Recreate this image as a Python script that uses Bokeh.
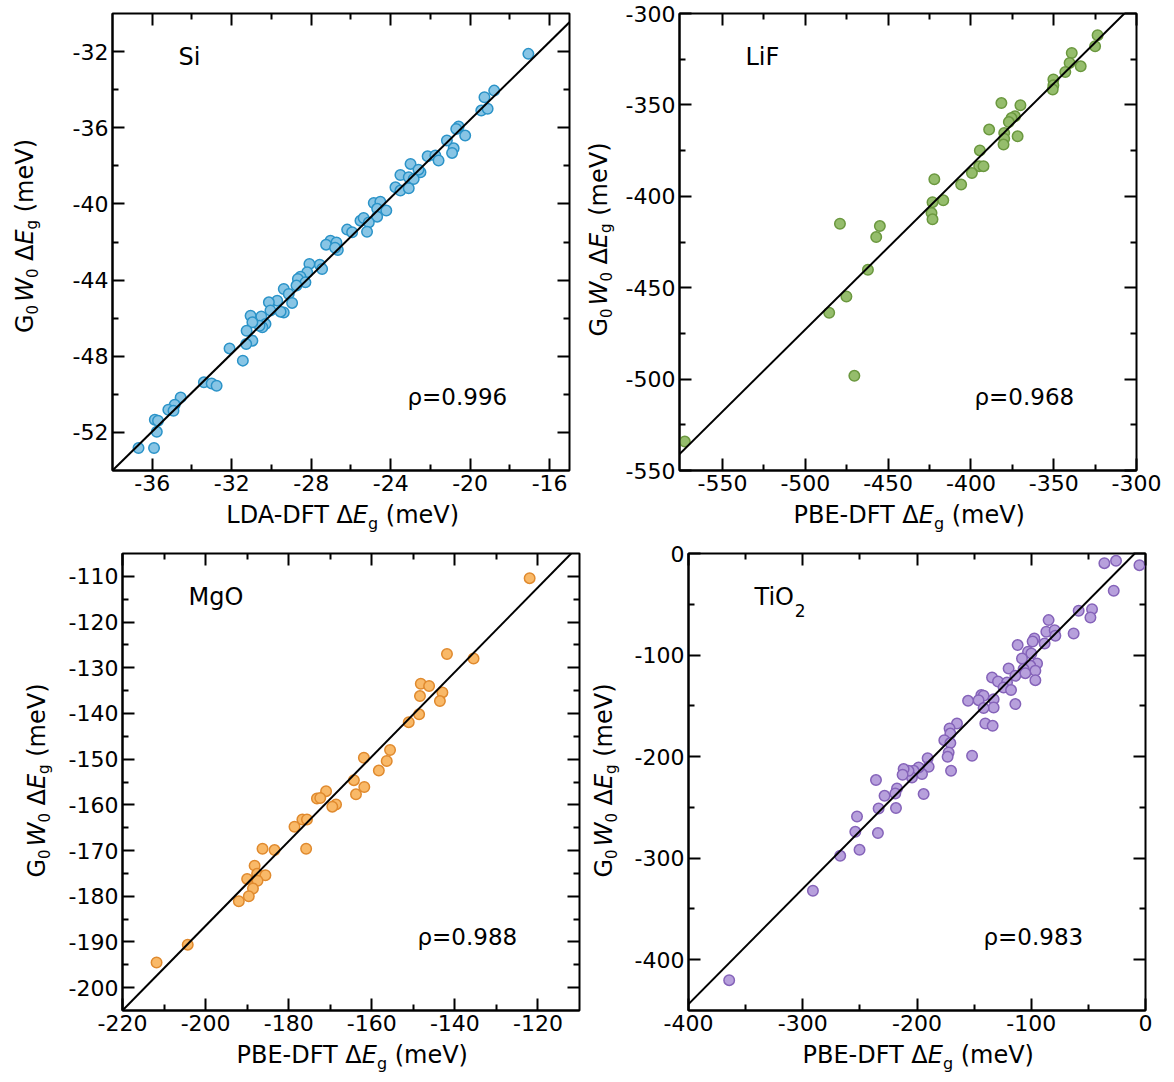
from bokeh.plotting import figure
from bokeh.models import Label, LinearAxis, FixedTicker, Slope, Range1d
from bokeh.layouts import column, row
from bokeh.embed import file_html
from bokeh.resources import INLINE

FONT = "DejaVu Sans"

# ---------------- data ----------------
si_x = [-17.07, -18.79, -19.28, -19.44, -19.12, -20.58, -20.70, -20.25, -21.17, -20.83,
        -20.91, -22.14, -21.75, -21.59, -23.00, -22.50, -22.60, -23.51, -23.09, -22.84,
        -23.76, -23.51, -23.09, -24.85, -24.52, -24.68, -24.22, -24.68, -25.52, -25.36,
        -25.10, -25.19, -26.19, -25.94, -27.03, -27.25, -26.73, -26.66, -26.80, -27.57,
        -27.45, -28.09, -28.20, -28.54, -28.67, -28.29, -29.38, -28.74, -29.13, -28.96,
        -29.38, -29.54, -29.71, -30.13, -30.05, -30.51, -30.30, -30.46, -30.60, -31.05,
        -30.96, -31.25, -30.96, -31.27, -32.11, -31.44, -33.40, -33.01, -32.76, -34.57,
        -34.87, -35.19, -34.93, -35.87, -35.71, -35.77, -36.69, -35.91]
si_y = [-32.12, -34.05, -34.40, -35.10, -35.00, -35.94, -36.06, -36.41, -36.67, -37.08,
        -37.32, -37.50, -37.46, -37.72, -37.90, -38.34, -38.20, -38.48, -38.60, -38.69,
        -39.13, -39.30, -39.18, -39.95, -39.88, -40.26, -40.35, -40.67, -40.88, -40.74,
        -40.97, -41.46, -41.35, -41.49, -41.93, -42.14, -42.02, -42.42, -42.30, -43.19,
        -43.42, -43.15, -43.59, -43.82, -43.94, -44.12, -44.47, -44.29, -44.73, -45.20,
        -45.70, -45.66, -45.08, -45.17, -45.60, -45.91, -46.31, -46.48, -46.40, -45.87,
        -46.22, -46.66, -47.18, -47.36, -47.59, -48.23, -49.37, -49.43, -49.55, -50.16,
        -50.55, -50.81, -50.86, -51.33, -51.39, -51.97, -52.82, -52.82]

lif_x = [-323.5, -325.0, -339.1, -340.4, -333.7, -343.0, -350.2, -350.2, -350.6, -381.6,
         -370.1, -373.4, -375.5, -377.1, -389.0, -379.9, -379.9, -371.8, -380.3, -394.6,
         -395.0, -392.4, -399.4, -405.9, -422.1, -423.2, -416.7, -423.8, -423.2, -479.1,
         -455.0, -457.2, -462.2, -475.2, -485.6, -470.4, -572.8]
lif_y = [-311.9, -317.9, -321.6, -327.1, -328.9, -332.0, -336.1, -339.3, -341.6, -349.0,
         -350.2, -356.2, -357.2, -359.4, -363.5, -365.4, -368.5, -367.2, -371.7, -374.9,
         -383.5, -383.5, -387.3, -393.6, -390.7, -403.2, -402.2, -409.2, -412.6, -415.0,
         -416.3, -422.3, -440.2, -454.8, -463.7, -498.2, -534.2]

mgo_x = [-122.0, -135.5, -141.9, -148.2, -146.2, -148.4, -143.0, -143.6, -148.6, -151.1,
         -155.6, -156.4, -161.9, -158.3, -164.3, -161.8, -163.8, -171.0, -173.2, -172.4,
         -168.6, -169.5, -176.7, -175.6, -178.6, -175.8, -186.3, -183.4, -188.2, -190.0,
         -187.6, -185.6, -187.5, -188.6, -189.6, -192.0, -204.3, -211.8]
mgo_y = [-110.4, -128.0, -127.0, -133.5, -134.0, -136.2, -135.4, -137.3, -140.2, -141.9,
         -148.0, -150.4, -149.7, -152.5, -154.6, -156.1, -157.7, -157.0, -158.6, -158.5,
         -159.9, -160.4, -163.2, -163.2, -164.8, -169.6, -169.6, -169.9, -173.3, -176.2,
         -175.1, -175.4, -176.6, -178.3, -180.0, -181.1, -190.6, -194.5]

tio2_x = [-36.0, -25.8, -5.3, -27.8, -58.5, -46.8, -48.2, -62.9, -84.8, -86.8,
          -79.5, -78.9, -97.3, -98.8, -88.3, -111.9, -102.8, -99.9, -108.1, -94.9,
          -100.8, -119.8, -106.7, -96.4, -105.2, -113.9, -96.4, -134.3, -129.1, -121.2,
          -124.2, -117.7, -143.7, -141.7, -132.9, -146.1, -155.3, -113.9, -132.9, -141.7,
          -140.2, -133.8, -165.0, -171.5, -170.8, -176.1, -170.8, -172.3, -173.2, -151.8,
          -170.2, -190.7, -189.8, -195.6, -198.6, -202.9, -204.4, -207.4, -211.7, -212.6,
          -235.9, -194.2, -217.5, -219.0, -228.4, -233.6, -218.4, -252.5, -254.0, -234.2,
          -250.3, -267.2, -291.1, -364.4]
tio2_y = [-9.5, -7.2, -11.5, -36.7, -56.4, -54.8, -63.0, -78.8, -65.6, -77.1,
          -75.5, -81.0, -83.7, -86.7, -88.6, -90.2, -96.8, -98.5, -103.4, -108.3,
          -110.6, -113.2, -113.8, -115.5, -117.8, -120.4, -124.7, -122.1, -126.0, -127.0,
          -132.0, -134.5, -139.4, -140.1, -143.4, -144.4, -145.1, -148.3, -151.6, -152.2,
          -167.4, -169.7, -167.4, -172.3, -177.3, -183.8, -186.7, -196.0, -200.2, -199.2,
          -214.0, -201.5, -210.0, -217.2, -210.7, -214.0, -220.6, -214.0, -212.3, -217.9,
          -223.1, -236.9, -231.4, -236.3, -238.6, -251.1, -250.7, -259.0, -274.1, -275.3,
          -291.8, -297.7, -332.1, -420.1]

# linear fits (gradient, intercept)
si_fit = [1.0235, -15.107]
lif_fit = [0.897, -24.35]
mgo_fit = [0.9259, -1.30]
tio2_fit = [1.136, 10.68]

names = ["Si", "LiF", "MgO", "TiO"]
rho_labels = ["ρ=0.996", "ρ=0.968", "ρ=0.988", "ρ=0.983"]
x_titles = ["LDA-DFT", "PBE-DFT", "PBE-DFT", "PBE-DFT"]

si_xticks = [-36, -32, -28, -24, -20, -16]
si_xlabels = ["-36", "-32", "-28", "-24", "-20", "-16"]
si_xminor = [-34, -30, -26, -22, -18]
si_yticks = [-52, -48, -44, -40, -36, -32]
si_ylabels = ["-52", "-48", "-44", "-40", "-36", "-32"]
si_yminor = [-50, -46, -42, -38, -34]

lif_xticks = [-550, -500, -450, -400, -350, -300]
lif_xlabels = ["-550", "-500", "-450", "-400", "-350", "-300"]
lif_xminor = [-525, -475, -425, -375, -325]
lif_yticks = [-550, -500, -450, -400, -350, -300]
lif_ylabels = ["-550", "-500", "-450", "-400", "-350", "-300"]
lif_yminor = [-525, -475, -425, -375, -325]

mgo_xticks = [-220, -200, -180, -160, -140, -120]
mgo_xlabels = ["-220", "-200", "-180", "-160", "-140", "-120"]
mgo_xminor = [-210, -190, -170, -150, -130]
mgo_yticks = [-200, -190, -180, -170, -160, -150, -140, -130, -120, -110]
mgo_ylabels = ["-200", "-190", "-180", "-170", "-160", "-150", "-140", "-130", "-120", "-110"]
mgo_yminor = [-195, -185, -175, -165, -155, -145, -135, -125, -115]

tio2_xticks = [-400, -300, -200, -100, 0]
tio2_xlabels = ["-400", "-300", "-200", "-100", "0"]
tio2_xminor = [-350, -250, -150, -50]
tio2_yticks = [-400, -300, -200, -100, 0]
tio2_ylabels = ["-400", "-300", "-200", "-100", "0"]
tio2_yminor = [-350, -250, -150, -50]

# ---------------- text helpers ----------------
WID = {" ": 318, "(": 390, ")": 390, "-": 361, ".": 318, "=": 838, "Δ": 684, "ρ": 635,
       "A": 684, "B": 686, "D": 770, "E": 632, "F": 575, "G": 775, "L": 557, "P": 603,
       "T": 611, "V": 684, "W": 989, "O": 787, "i": 278, "e": 615, "m": 974, "g": 635}
for d in "0123456789":
    WID[d] = 636
BASE = 0.35  # distance from the anchor to the baseline, in font sizes


def tw(s, size):
    return sum(WID.get(c, 620) for c in s) * size / 1000.0


def lab(p, x, y, text, size, italic=False, angle=0.0, align="left"):
    p.add_layout(Label(x=x, y=y, text=text, angle=angle,
                       text_font=FONT, text_font_size=f"{size}px",
                       text_font_style="italic" if italic else "normal",
                       text_align=align, text_baseline="alphabetic",
                       text_color="black"))


def add_runs(p, x, y, runs, angle=0.0):
    """x, y: start of the baseline (pixels); runs: (text, size, italic, shift_down)."""
    pos = 0.0
    for text, size, italic, shift in runs:
        if text:
            down = shift - BASE * size
            if angle == 0:
                lab(p, x + pos, y - down, text, size, italic)
            else:
                lab(p, x + down, y + pos, text, size, italic, angle)
            pos += tw(text, size)
        else:
            pos += size  # gap in px


def runs_width(runs):
    return sum(tw(t, s) if t else s for t, s, _, _ in runs)


XREST = [("Δ", 24, False, 0), ("E", 24, True, 0), ("g", 16, False, 6),
         ("", 7.6, False, 0), ("(meV)", 24, False, 0)]
YRUNS = [("G", 24, False, 0), ("0", 15, False, 4), ("", 3, False, 0),
         ("W", 24, True, 0), ("0", 15, False, 4), ("", 7.6, False, 0),
         ("Δ", 24, False, 0), ("E", 24, True, 0), ("g", 15, False, 4),
         ("", 7.6, False, 0), ("(meV)", 24, False, 0)]


def style_axis(ax, ticks, labels, minor):
    ax.ticker = FixedTicker(ticks=ticks, minor_ticks=minor)
    ax.major_label_overrides = {t: l for t, l in zip(ticks, labels)}
    ax.axis_line_color = "black"
    ax.axis_line_width = 2
    ax.major_tick_line_color = "black"
    ax.major_tick_line_width = 2
    ax.major_tick_in = 12
    ax.major_tick_out = 0
    ax.minor_tick_line_color = "black"
    ax.minor_tick_line_width = 2
    ax.minor_tick_in = 6
    ax.minor_tick_out = 0
    ax.major_label_text_font = FONT
    ax.major_label_text_color = "black"
    ax.major_label_text_font_size = "22px"
    ax.major_label_standoff = 4
    ax.axis_label = None


def add_tick_axis(p, side, positions, length):
    # axis without labels: ticks drawn as "minor" ticks only
    ax = LinearAxis(ticker=FixedTicker(ticks=[], minor_ticks=positions))
    ax.axis_line_color = None
    ax.major_tick_line_color = None
    ax.minor_tick_line_color = "black"
    ax.minor_tick_line_width = 2
    ax.minor_tick_in = length
    ax.minor_tick_out = 0
    ax.major_label_standoff = 0
    p.add_layout(ax, side)


def blank_fig(w, h, bl=0, br=0):
    f = figure(width=w, height=h, x_range=Range1d(0, w - bl - br), y_range=Range1d(0, h),
               output_backend="svg", toolbar_location=None, min_border=0,
               min_border_left=bl, min_border_right=br,
               x_axis_location=None, y_axis_location=None)
    f.outline_line_color = None
    f.grid.visible = False
    f.background_fill_color = "white"
    f.border_fill_color = "white"
    return f


FW = 457
FH = 457


def make_panel(xr, yr, borders, xs, ys, fit, fill, line, xt, xl, xm, yt, yl, ym,
               name, sub, rho):
    p = figure(frame_width=FW, frame_height=FH, x_range=Range1d(*xr), y_range=Range1d(*yr),
               output_backend="svg", toolbar_location=None,
               min_border_left=borders[0], min_border_right=borders[1],
               min_border_top=borders[2], min_border_bottom=borders[3])
    p.grid.visible = False
    p.outline_line_color = "black"
    p.outline_line_width = 2
    p.background_fill_color = "white"
    p.border_fill_color = "white"
    style_axis(p.xaxis[0], xt, xl, xm)
    style_axis(p.yaxis[0], yt, yl, ym)
    add_tick_axis(p, "above", xt, 12)
    add_tick_axis(p, "above", xm, 6)
    add_tick_axis(p, "right", yt, 12)
    add_tick_axis(p, "right", ym, 6)

    p.scatter(xs, ys, size=10.5, fill_color=fill, line_color=line, line_width=1.5)
    p.add_layout(Slope(gradient=fit[0], y_intercept=fit[1], line_color="black", line_width=2))

    # texts inside the frame, placed in pixels from the frame's lower-left corner
    sx = (xr[1] - xr[0]) / FW
    sy = (yr[1] - yr[0]) / FH
    lab(p, xr[0] + 66 * sx, yr[0] + (405 + BASE * 24) * sy, name, 24)
    if sub:
        lab(p, xr[0] + (66 + tw(name, 24)) * sx, yr[0] + (405 - 11 + BASE * 17) * sy, sub, 17)
    lab(p, xr[0] + 295 * sx, yr[0] + (65 + BASE * 23) * sy, rho, 23)
    return p


def make_xtitle(panel, h, main, base_y):
    bl, br = panel.min_border_left, panel.min_border_right
    f = blank_fig(bl + FW + br, h, bl, br)
    gap = 7.6
    w_main = tw(main, 24)
    total = w_main + gap + runs_width(XREST)
    a = FW / 2 + 1 - total / 2 + w_main + gap   # where the Δ starts
    lab(f, a - gap, base_y + BASE * 24, main, 24, align="right")
    add_runs(f, a, base_y, XREST)
    return f


def make_ytitle(w, h, base_x, center_y):
    f = blank_fig(w, h)
    add_runs(f, base_x, center_y - runs_width(YRUNS) / 2, YRUNS, angle=1.5707963267948966)
    return f


p1 = make_panel((-38, -15), (-54, -30), (64, 12, 13, 30), si_x, si_y, si_fit,
                "#88c5e5", "#2b93c8", si_xticks, si_xlabels, si_xminor,
                si_yticks, si_ylabels, si_yminor, names[0], None, rho_labels[0])
p2 = make_panel((-576, -300), (-550, -300), (62, 30, 13, 30), lif_x, lif_y, lif_fit,
                "#95bd6c", "#6b983f", lif_xticks, lif_xlabels, lif_xminor,
                lif_yticks, lif_ylabels, lif_yminor, names[1], None, rho_labels[1])
p3 = make_panel((-220, -110), (-205, -105), (66, 8, 13, 30), mgo_x, mgo_y, mgo_fit,
                "#f9b968", "#e08a2e", mgo_xticks, mgo_xlabels, mgo_xminor,
                mgo_yticks, mgo_ylabels, mgo_yminor, names[2], None, rho_labels[2])
p4 = make_panel((-400, 0), (-450, 0), (61, 12, 13, 30), tio2_x, tio2_y, tio2_fit,
                "#b7a0dc", "#8563b9", tio2_xticks, tio2_xlabels, tio2_xminor,
                tio2_yticks, tio2_ylabels, tio2_yminor, names[3], "2", rho_labels[3])

c1 = row(make_ytitle(48, 540, 33, 304.5), column(p1, make_xtitle(p1, 40, x_titles[0], 17.3)))
c2 = row(make_ytitle(36, 540, 26, 301), column(p2, make_xtitle(p2, 40, x_titles[1], 17.3)))
c3 = row(make_ytitle(56, 540, 45, 300), column(p3, make_xtitle(p3, 40, x_titles[2], 17.5)))
c4 = row(make_ytitle(40, 540, 25, 300), column(p4, make_xtitle(p4, 40, x_titles[3], 17.5)))

layout = column(row(c1, c2), row(c3, c4))
open("out.html", "w").write(file_html(layout, INLINE))
